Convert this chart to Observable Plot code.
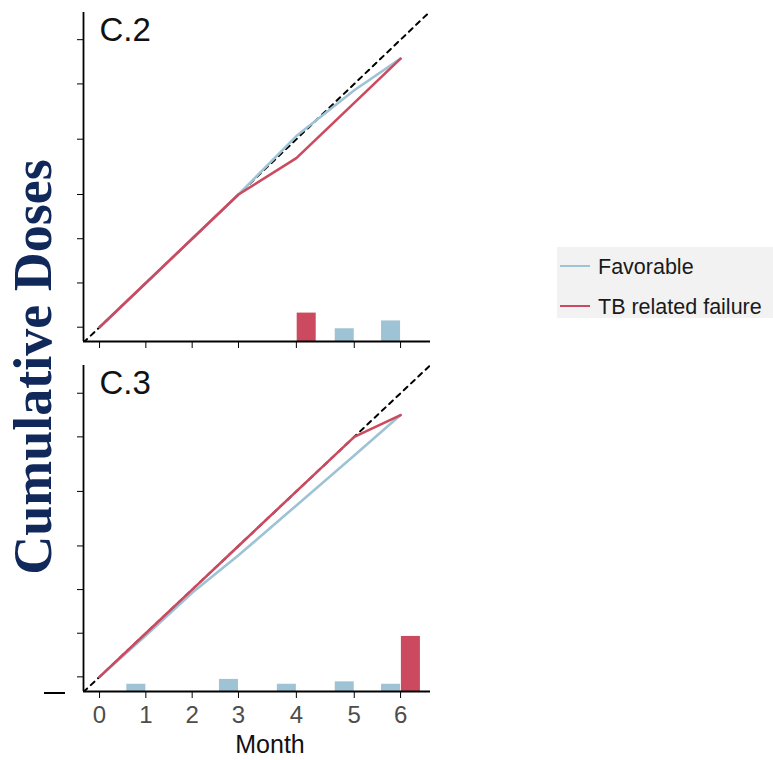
<!DOCTYPE html>
<html><head><meta charset="utf-8">
<script src="https://cdn.jsdelivr.net/npm/d3@7"></script>
<script src="https://cdn.jsdelivr.net/npm/@observablehq/plot@0.6"></script>
<style>
body{margin:0;background:#fff;}
#wrap{position:relative;width:773px;height:760px;overflow:hidden;background:#fff;}
#wrap > *{position:absolute;left:0;}
</style></head><body><div id="wrap"></div>
<script>
// ---------- data ----------
const monthLabels = ["0", "1", "2", "3", "4", "5", "6"];
const monthDays = [0, 28, 56, 84, 119, 154, 182];      // cumulative expected doses at each month
const doseTicks = [0, 28, 56, 84, 119, 154, 182];
const seriesNames = ["Favorable", "TB related failure"];
const seriesColors = ["#9ec3d5", "#cc4a5f"];

// Panel C.2
const c2Favorable = [0, 28, 56, 84, 121, 150, 170];
const c2Failure   = [0, 28, 56, 84, 107, 142, 170];
const c2BarMonths = [4, 5, 6];
const c2BarSeries = ["TB related failure", "Favorable", "Favorable"];
const c2BarValues = [11.6, 5.2, 8.4];

// Panel C.3
const c3Favorable = [0, 26.5, 54, 78, 110, 142, 168];
const c3Failure   = [0, 28, 56, 84, 119, 154, 168];
const c3BarMonths = [1, 3, 4, 5, 6, 6];
const c3BarSeries = ["Favorable", "Favorable", "Favorable", "Favorable", "Favorable", "TB related failure"];
const c3BarValues = [3, 5, 3, 4, 3, 22.8];

// ---------- chart ----------
const xDomain = [-9.7, 200.1];
const barWidth = 11.5, barGap = 0.5, barScale = 1.55;

function panel({label, fav, fail, barMonths, barSeries, barValues, yDomain, height, marginTop, marginBottom, showLabels}) {
  const lineData = [];
  monthDays.forEach((d, i) => lineData.push({series: seriesNames[0], day: d, dose: fav[i]}));
  monthDays.forEach((d, i) => lineData.push({series: seriesNames[1], day: d, dose: fail[i]}));
  const bars = barMonths.map((m, i) => ({month: m, series: barSeries[i], value: barValues[i]}));
  const y0 = yDomain[0];
  const identity = xDomain.map(v => ({v}));
  const isFav = d => d.series === seriesNames[0];
  return Plot.plot({
    width: 440, height, marginLeft: 83, marginRight: 10, marginTop, marginBottom,
    style: {fontFamily: "'Liberation Sans', Arial, sans-serif", fontSize: "24px", color: "#000", background: "transparent", overflow: "visible"},
    x: {domain: xDomain, label: null},
    y: {domain: yDomain, label: null},
    color: {domain: seriesNames, range: seriesColors},
    marks: [
      Plot.rect(bars, {
        x1: d => isFav(d) ? monthDays[d.month] - barWidth : monthDays[d.month] + barGap,
        x2: d => isFav(d) ? monthDays[d.month] : monthDays[d.month] + barGap + barWidth,
        y1: () => y0,
        y2: d => y0 + d.value * barScale,
        fill: "series"
      }),
      Plot.line(identity, {x: "v", y: "v", stroke: "#000", strokeWidth: 2, strokeDasharray: "5,5", clip: true}),
      Plot.line(lineData, {x: "day", y: "dose", z: "series", stroke: "series", strokeWidth: 2.6}),
      Plot.ruleX([xDomain[0]], {stroke: "#000", strokeWidth: 1.8}),
      Plot.ruleY([y0], {stroke: "#000", strokeWidth: 1.8}),
      Plot.axisY({ticks: doseTicks, tickSize: 6, tickFormat: () => "", stroke: "#000"}),
      Plot.axisX({ticks: monthDays, tickSize: 7, tickPadding: 7,
        tickFormat: d => showLabels ? monthLabels[monthDays.indexOf(d)] : "",
        stroke: "#000", fill: "#4d4d4d"}),
      Plot.text([label], {text: d => d, frameAnchor: "top-left", dx: 16, dy: 5, lineAnchor: "top", textAnchor: "start", fontSize: 33, fill: "#111"})
    ]
  });
}

const wrap = document.getElementById("wrap");
const top1 = panel({label: "C.2", fav: c2Favorable, fail: c2Failure, barMonths: c2BarMonths, barSeries: c2BarSeries, barValues: c2BarValues,
  yDomain: [-9.05, 199.2], height: 355, marginTop: 12, marginBottom: 14, showLabels: false});
top1.style.top = "0px";
wrap.appendChild(top1);
const bot = panel({label: "C.3", fav: c3Favorable, fail: c3Failure, barMonths: c3BarMonths, barSeries: c3BarSeries, barValues: c3BarValues,
  yDomain: [-9.4, 199.8], height: 405, marginTop: 10, marginBottom: 69, showLabels: true});
bot.style.top = "355px";
wrap.appendChild(bot);

// overlay: shared y label, x label, legend
const svg = d3.select(wrap).append("svg").attr("width", 773).attr("height", 760)
  .style("top", "0px").style("pointer-events", "none");
svg.append("text").text("Cumulative Doses")
  .attr("transform", "translate(51,367) rotate(-90)")
  .attr("text-anchor", "middle")
  .attr("font-family", "'Liberation Serif', 'DejaVu Serif', serif")
  .attr("font-weight", "bold").attr("font-size", 54).attr("fill", "#10295a");
svg.append("line").attr("x1", 44).attr("x2", 65).attr("y1", 693).attr("y2", 693).attr("stroke", "#000").attr("stroke-width", 2);
svg.append("text").text("Month").attr("x", 270).attr("y", 753).attr("text-anchor", "middle")
  .attr("font-family", "'Liberation Sans', Arial, sans-serif").attr("font-size", 25).attr("fill", "#111");

const lg = svg.append("g");
lg.append("rect").attr("x", 557).attr("y", 247).attr("width", 216).attr("height", 71).attr("fill", "#f2f2f2");
const legendY = [266, 306];
seriesNames.forEach((name, i) => {
  lg.append("line").attr("x1", 560).attr("x2", 590).attr("y1", legendY[i]).attr("y2", legendY[i])
    .attr("stroke", seriesColors[i]).attr("stroke-width", 2);
  lg.append("text").text(name).attr("x", 598).attr("y", legendY[i] + 8)
    .attr("font-family", "'Liberation Sans', Arial, sans-serif").attr("font-size", 21.5).attr("fill", "#1a1a1a");
});
</script>
</body></html>
